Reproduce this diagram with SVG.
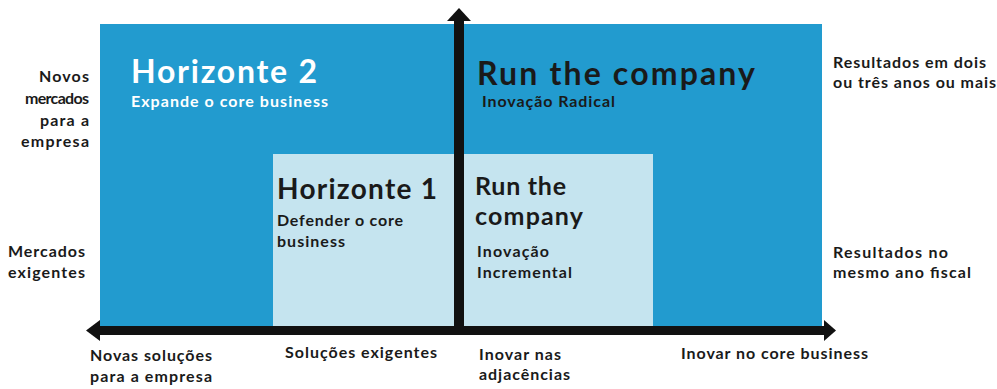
<svg xmlns="http://www.w3.org/2000/svg" width="997" height="389" viewBox="0 0 997 389">
<style>
text{font-family:Lato,"Open Sans","Liberation Sans",sans-serif;font-weight:700;fill:#1a1a1a}
.lbl{font-size:16px}
.w{fill:#ffffff}
.big{font-size:32px}
.mid{font-size:28px}
.rt{font-size:25px}
.sub{font-size:16px}
</style>
<rect x="0" y="0" width="997" height="389" fill="#ffffff"/>
<g id="outer">
<rect x="100" y="24" width="722" height="302" fill="#229bcf"/>
</g>
<g id="inner">
<rect x="273" y="154" width="380" height="172" fill="#c5e4ef"/>
</g>
<g id="horizonte2">
<text class="big w" x="131" y="83" textLength="186">Horizonte 2</text>
<text class="sub w" x="131" y="106.5" textLength="197">Expande o core business</text>
</g>
<g id="run-radical">
<text class="big" x="477" y="84.5" textLength="278">Run the company</text>
<text class="sub" x="482" y="107" textLength="133">Inovação Radical</text>
</g>
<g id="horizonte1">
<text class="mid" x="277" y="199" textLength="160">Horizonte 1</text>
<text class="sub" x="277" y="226" textLength="126">Defender o core</text>
<text class="sub" x="277" y="247" textLength="68">business</text>
</g>
<g id="run-incremental">
<text class="rt" x="475" y="195" textLength="91">Run the</text>
<text class="rt" x="475" y="225" textLength="108">company</text>
<text class="sub" x="477" y="257" textLength="72">Inovação</text>
<text class="sub" x="477" y="278" textLength="95">Incremental</text>
</g>
<g id="connectors">
<rect x="96" y="326" width="734" height="9" fill="#111"/>
<polygon points="86,330.5 100,320 100,341" fill="#111"/>
<polygon points="836,330.5 824,320 824,341" fill="#111"/>
<rect x="454" y="18" width="10" height="317" fill="#111"/>
<polygon points="459,8 447,21 471,21" fill="#111"/>
</g>
<g id="y-labels">
<text class="lbl" x="39" y="82" textLength="50">Novos</text>
<text class="lbl" x="25" y="104" textLength="64">mercados</text>
<text class="lbl" x="40" y="126" textLength="49">para a</text>
<text class="lbl" x="21" y="147" textLength="68">empresa</text>
<text class="lbl" x="8" y="257" textLength="77">Mercados</text>
<text class="lbl" x="8" y="278" textLength="77">exigentes</text>
</g>
<g id="right-labels">
<text class="lbl" x="833" y="68" textLength="153">Resultados em dois</text>
<text class="lbl" x="833" y="88" textLength="163">ou três anos ou mais</text>
<text class="lbl" x="833" y="258" textLength="115">Resultados no</text>
<text class="lbl" x="833" y="278" textLength="138">mesmo ano fiscal</text>
</g>
<g id="x-labels">
<text class="lbl" x="90" y="361" textLength="122">Novas soluções</text>
<text class="lbl" x="90" y="382" textLength="122">para a empresa</text>
<text class="lbl" x="285" y="358" textLength="152">Soluções exigentes</text>
<text class="lbl" x="479" y="360" textLength="82">Inovar nas</text>
<text class="lbl" x="479" y="380" textLength="91">adjacências</text>
<text class="lbl" x="681" y="359" textLength="187">Inovar no core business</text>
</g>
</svg>
